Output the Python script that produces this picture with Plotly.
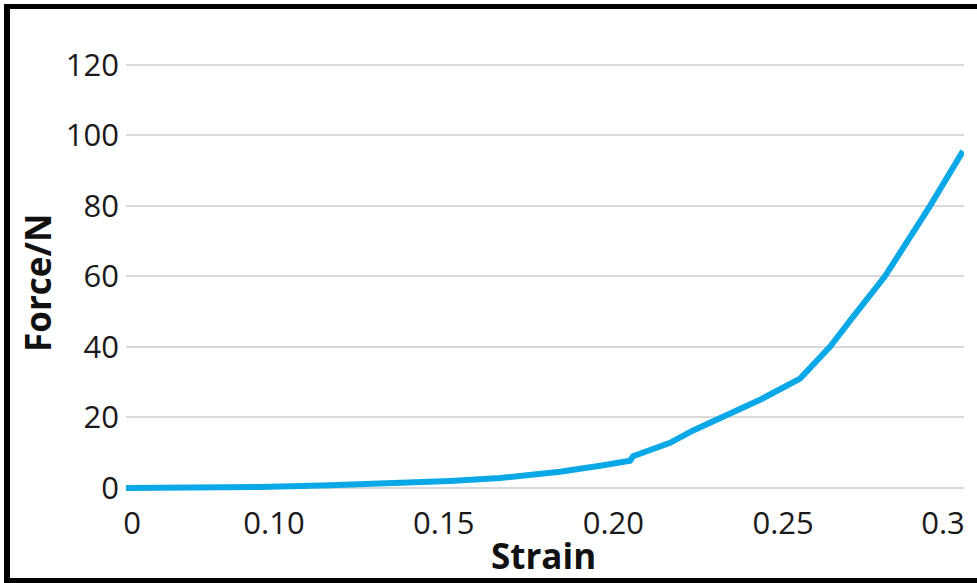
import plotly.graph_objects as go

# Data (strain, force in N)
strain = [0.0564, 0.0782, 0.0959, 0.1165, 0.1371, 0.1519, 0.1666, 0.1754, 0.1843,
          0.1961, 0.2049, 0.2058, 0.2167, 0.2235, 0.2335, 0.2432, 0.2550, 0.2638,
          0.2706, 0.2800, 0.2933, 0.3030]
force = [0.0, 0.1, 0.3, 0.8, 1.4, 2.0, 2.8, 3.6, 4.6,
         6.3, 7.7, 9.0, 12.8, 16.3, 20.5, 25.0, 31.0, 40.0,
         48.5, 60.0, 80.0, 95.5]

x_tick_vals = [0.0582, 0.10, 0.15, 0.20, 0.25, 0.2971]
x_tick_text = ["0", "0.10", "0.15", "0.20", "0.25", "0.3"]
y_tick_vals = [0, 20, 40, 60, 80, 100, 120]

W, H = 977, 583
ML, MR, MT, MB = 126, 13, 63, 88
pw, ph = W - ML - MR, H - MT - MB

def px2paper_x(px):
    return (px - ML) / pw

def px2paper_y(py):
    return 1 - (py - MT) / ph

fig = go.Figure()
fig.add_trace(go.Scatter(x=strain, y=force, mode="lines",
                         line=dict(color="#0BA8E8", width=6),
                         showlegend=False, hoverinfo="skip"))

font_family = "Open Sans"
fig.update_layout(
    width=W, height=H,
    margin=dict(l=ML, r=MR, t=MT, b=MB),
    paper_bgcolor="white", plot_bgcolor="white",
    font=dict(family=font_family, color="#1a1a1a"),
    xaxis=dict(range=[0.0564, 0.3033], tickmode="array", tickvals=x_tick_vals,
               ticktext=x_tick_text, showgrid=False, zeroline=False,
               tickfont=dict(size=31, color="#1a1a1a"), ticks="", ticklabelstandoff=7,
               showline=False),
    yaxis=dict(range=[-2, 120.5], tickmode="array", tickvals=y_tick_vals,
               showgrid=True, gridcolor="#D9D9D9", gridwidth=1.5,
               zeroline=True, zerolinecolor="#D9D9D9", zerolinewidth=1.5,
               tickfont=dict(size=31, color="#1a1a1a"), ticks="", ticklabelstandoff=6,
               showline=False),
)

# Axis titles
fig.add_annotation(text="<b>Strain</b>", xref="paper", yref="paper",
                   x=px2paper_x(543), y=px2paper_y(555), showarrow=False,
                   xanchor="center", yanchor="middle",
                   font=dict(size=35, color="#111", family=font_family))
fig.add_annotation(text="<b>Force/N</b>", xref="paper", yref="paper",
                   x=px2paper_x(37), y=px2paper_y(283), showarrow=False,
                   xanchor="center", yanchor="middle", textangle=-90,
                   font=dict(size=35, color="#111", family=font_family))

# Black frame around the image (top, left, bottom)
frame = [
    (4, 4, W + 5, 9),
    (4, 4, 10, H + 5),
    (4, 578, W + 5, H + 5),
]
for x0, y0, x1, y1 in frame:
    fig.add_shape(type="rect", xref="paper", yref="paper",
                  x0=px2paper_x(x0), x1=px2paper_x(x1),
                  y0=px2paper_y(y0), y1=px2paper_y(y1),
                  fillcolor="black", line=dict(width=0), layer="above")

fig.write_html("out.html")
